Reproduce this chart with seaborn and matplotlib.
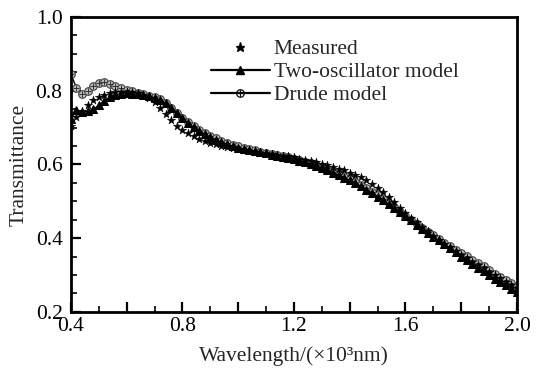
import numpy as np
import pandas as pd
import seaborn as sns
import matplotlib
matplotlib.use("Agg")
import matplotlib.pyplot as plt
from matplotlib.lines import Line2D
from matplotlib.ticker import MultipleLocator

wavelength = [0.40, 0.42, 0.44, 0.46, 0.48, 0.50, 0.52, 0.54, 0.56, 0.58,
              0.60, 0.62, 0.64, 0.66, 0.68, 0.70, 0.72, 0.74, 0.76, 0.78,
              0.80, 0.82, 0.84, 0.86, 0.88, 0.90, 0.92, 0.94, 0.96, 0.98,
              1.00, 1.02, 1.04, 1.06, 1.08, 1.10, 1.12, 1.14, 1.16, 1.18,
              1.20, 1.22, 1.24, 1.26, 1.28, 1.30, 1.32, 1.34, 1.36, 1.38,
              1.40, 1.42, 1.44, 1.46, 1.48, 1.50, 1.52, 1.54, 1.56, 1.58,
              1.60, 1.62, 1.64, 1.66, 1.68, 1.70, 1.72, 1.74, 1.76, 1.78,
              1.80, 1.82, 1.84, 1.86, 1.88, 1.90, 1.92, 1.94, 1.96, 1.98, 2.00]

measured = [0.705, 0.728, 0.746, 0.762, 0.774, 0.783, 0.789, 0.793, 0.796, 0.797,
            0.797, 0.796, 0.793, 0.788, 0.780, 0.769, 0.754, 0.737, 0.720, 0.705,
            0.694, 0.685, 0.677, 0.670, 0.664, 0.659, 0.655, 0.651, 0.647, 0.644,
            0.641, 0.638, 0.636, 0.634, 0.632, 0.630, 0.628, 0.626, 0.624, 0.622,
            0.619, 0.616, 0.613, 0.610, 0.606, 0.602, 0.598, 0.594, 0.589, 0.584,
            0.578, 0.572, 0.565, 0.557, 0.547, 0.536, 0.524, 0.511, 0.497, 0.483,
            0.469, 0.456, 0.443, 0.431, 0.419, 0.407, 0.396, 0.385, 0.375, 0.365,
            0.355, 0.345, 0.336, 0.327, 0.318, 0.309, 0.300, 0.291, 0.282, 0.273, 0.264]

two_osc = [0.722, 0.748, 0.742, 0.744, 0.750, 0.760, 0.772, 0.783, 0.789, 0.792,
           0.793, 0.792, 0.790, 0.788, 0.785, 0.781, 0.775, 0.766, 0.754, 0.740,
           0.726, 0.713, 0.701, 0.691, 0.682, 0.674, 0.667, 0.661, 0.655, 0.650,
           0.646, 0.642, 0.639, 0.636, 0.633, 0.630, 0.627, 0.624, 0.621, 0.618,
           0.614, 0.610, 0.606, 0.601, 0.596, 0.590, 0.584, 0.578, 0.571, 0.564,
           0.557, 0.549, 0.541, 0.532, 0.523, 0.513, 0.503, 0.492, 0.481, 0.470,
           0.459, 0.448, 0.437, 0.426, 0.415, 0.404, 0.394, 0.383, 0.373, 0.363,
           0.350, 0.340, 0.330, 0.320, 0.310, 0.300, 0.290, 0.281, 0.272, 0.263, 0.254]

drude = [0.845, 0.808, 0.792, 0.800, 0.814, 0.822, 0.823, 0.819, 0.813, 0.808,
         0.803, 0.799, 0.795, 0.791, 0.787, 0.783, 0.777, 0.767, 0.754, 0.740,
         0.726, 0.714, 0.703, 0.694, 0.686, 0.678, 0.671, 0.665, 0.659, 0.654,
         0.649, 0.645, 0.642, 0.638, 0.635, 0.632, 0.629, 0.626, 0.623, 0.620,
         0.616, 0.612, 0.608, 0.603, 0.598, 0.592, 0.586, 0.580, 0.574, 0.567,
         0.560, 0.552, 0.544, 0.535, 0.526, 0.516, 0.506, 0.495, 0.484, 0.472,
         0.461, 0.450, 0.439, 0.428, 0.418, 0.408, 0.398, 0.388, 0.378, 0.369,
         0.360, 0.351, 0.342, 0.333, 0.325, 0.313, 0.304, 0.295, 0.287, 0.279, 0.271]

labels = ["Measured", "Two-oscillator model", "Drude model"]
x_ticks = [0.4, 0.8, 1.2, 1.6, 2.0]
y_ticks = [0.2, 0.4, 0.6, 0.8, 1.0]

sns.set_theme(style="ticks")
plt.rcParams["font.family"] = ["Liberation Serif", "DejaVu Serif"]
plt.rcParams["mathtext.fontset"] = "stix"

df = pd.DataFrame({"x": wavelength, "measured": measured,
                   "two": two_osc, "drude": drude})

FS = 15.5

fig = plt.figure(figsize=(5.45, 3.70), dpi=100)
ax = fig.add_axes([0.130, 0.157, 0.8186, 0.797])

# Two-oscillator model
sns.lineplot(data=df, x="x", y="two", ax=ax, color="black", lw=1.0,
             marker="^", markersize=5.5, markeredgecolor="black",
             markerfacecolor="black", zorder=3)
# Drude model: circle with cross
sns.lineplot(data=df, x="x", y="drude", ax=ax, color="black", lw=1.0,
             marker="o", markersize=5.5, markeredgecolor="#444444",
             markerfacecolor="#bbbbbb", markeredgewidth=0.8, zorder=2)
sns.scatterplot(data=df, x="x", y="drude", ax=ax, marker="+", s=22,
                color="#333333", linewidth=0.7, zorder=2.5)
# Measured stars
sns.scatterplot(data=df, x="x", y="measured", ax=ax, marker="*", s=40,
                color="black", edgecolor="black", linewidth=0.3, zorder=4)

ax.set_xlim(0.4, 2.0)
ax.set_ylim(0.2, 1.0)
ax.xaxis.set_major_locator(MultipleLocator(0.2))
ax.xaxis.set_minor_locator(MultipleLocator(0.1))
ax.yaxis.set_major_locator(MultipleLocator(0.2))
ax.yaxis.set_minor_locator(MultipleLocator(0.05))
ax.set_xticklabels([f"{v:.1f}" if any(abs(v - t) < 1e-6 for t in x_ticks) else ""
                    for v in ax.get_xticks()])
ax.set_yticklabels([f"{v:.1f}" if any(abs(v - t) < 1e-6 for t in y_ticks) else ""
                    for v in ax.get_yticks()])
ax.tick_params(axis="both", which="major", direction="in", length=7, width=1.6,
               labelsize=FS, colors="black")
ax.tick_params(axis="x", which="major", pad=4)
ax.tick_params(axis="y", which="major", pad=6)
ax.tick_params(axis="both", which="minor", direction="in", length=4.5, width=1.4)
for s in ax.spines.values():
    s.set_linewidth(2.0)
    s.set_color("black")

ax.set_xlabel("Wavelength/(×10³nm)", fontsize=FS, labelpad=7)
ax.set_ylabel("Transmittance", fontsize=FS, labelpad=5)

h_meas = Line2D([], [], color="black", marker="*", markersize=6.5, lw=0)
h_two = Line2D([], [], color="black", marker="^", markersize=5.5, lw=1.6)
h_dru = Line2D([], [], color="black", marker="$\\oplus$", markersize=6, lw=1.6,
               markeredgewidth=0.3)
leg = ax.legend([h_meas, h_two, h_dru], labels, loc="upper left",
                bbox_to_anchor=(0.315, 0.925), frameon=False, fontsize=FS,
                handlelength=2.7, handletextpad=0.2, labelspacing=0.14,
                borderpad=0, borderaxespad=0)

fig.savefig("out.png", dpi=100)
